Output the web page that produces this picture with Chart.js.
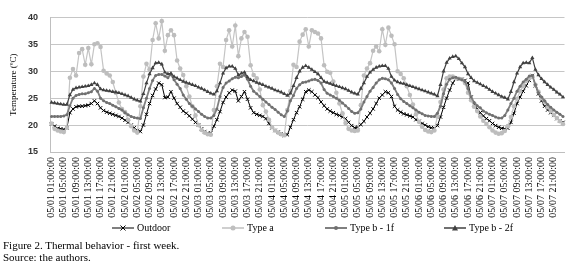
<!DOCTYPE html>
<html><head><meta charset="utf-8">
<script src="https://cdn.jsdelivr.net/npm/chart.js@4.4.0/dist/chart.umd.min.js"></script>
<style>
html,body{margin:0;padding:0;background:#fff;}
#wrap{position:relative;width:580px;height:268px;overflow:hidden;background:#fff;}
canvas{position:absolute;left:0;top:0;}
.leg{position:absolute;top:223px;height:10px;font:10px "Liberation Serif",serif;color:#000;display:flex;align-items:center;white-space:nowrap;line-height:10px;}
.leg svg{margin-right:3px;display:block;}
#cap{position:absolute;left:3px;top:240px;font:11px "Liberation Serif",serif;line-height:11.5px;color:#000;white-space:nowrap;}
</style></head><body>
<div id="wrap">
<canvas id="c" width="580" height="268"></canvas>
<div class="leg" style="left:112px"><svg width="22" height="10"><line x1="0" y1="5" x2="22" y2="5" stroke="#000" stroke-width="1"/><path d="M8.5 2.5 L13.5 7.5 M13.5 2.5 L8.5 7.5" stroke="#000" stroke-width="1"/></svg><span id="l0"></span></div>
<div class="leg" style="left:222px"><svg width="22" height="10"><line x1="0" y1="5" x2="22" y2="5" stroke="#bfbfbf" stroke-width="1.5"/><circle cx="11" cy="5" r="2.5" fill="#bfbfbf"/></svg><span id="l1"></span></div>
<div class="leg" style="left:325px"><svg width="22" height="10"><line x1="0" y1="5" x2="22" y2="5" stroke="#7f7f7f" stroke-width="2"/><circle cx="11" cy="5" r="2" fill="#6f6f6f"/></svg><span id="l2"></span></div>
<div class="leg" style="left:444px"><svg width="22" height="10"><line x1="0" y1="5" x2="22" y2="5" stroke="#404040" stroke-width="1.5"/><polygon points="11,2 14,7.5 8,7.5" fill="#404040"/></svg><span id="l3"></span></div>
<div id="cap">Figure 2. Thermal behavior - first week.<br>Source: the authors.</div>
</div>
<script>
const dayLabels = ['05/01','05/02','05/03','05/04','05/05','05/06','05/07','05/08'];
const seriesNames = ['Outdoor','Type a','Type b - 1f','Type b - 2f'];
const yMin = 15, yMax = 40, yStep = 5;

// hourly values, 05/01 01:00 .. 05/08 00:00 (one row per day)
const outdoor = [
  20.2,19.8,19.4,19.3,19.2,19.5,22.3,23.0,23.4,23.5,23.5,23.6,23.7,24.0,24.5,24.0,23.2,22.7,22.4,22.2,22.0,21.8,21.6,21.3,
  20.9,20.5,20.0,19.5,19.0,18.8,20.0,22.0,24.0,25.5,26.7,27.8,27.5,25.1,25.2,26.2,25.0,24.0,23.3,22.6,22.2,21.7,21.1,20.5,
  20.0,19.3,18.8,18.5,18.5,19.8,21.0,22.5,24.2,25.2,26.0,26.5,26.3,24.5,25.3,26.2,24.8,23.2,22.3,22.0,21.8,21.6,21.2,20.3,
  19.5,19.0,18.7,18.4,18.1,18.2,19.6,21.0,22.3,23.4,24.8,26.2,26.5,26.2,25.6,25.1,24.3,23.6,23.0,22.6,22.3,22.0,21.8,21.5,
  21.2,20.5,19.9,19.5,19.6,20.1,20.7,21.5,22.2,23.0,24.0,25.0,25.6,26.2,26.0,25.3,23.5,22.8,22.4,22.1,21.9,21.7,21.5,21.0,
  20.7,20.3,20.0,19.7,19.5,19.4,19.9,21.5,23.3,25.0,26.5,27.8,28.6,28.6,28.5,28.3,27.8,25.2,23.8,23.0,22.3,21.7,21.2,20.8,
  20.3,19.9,19.6,19.4,19.3,19.4,20.5,22.2,24.0,25.2,26.3,27.3,28.3,29.2,27.3,25.8,24.5,23.5,22.8,22.3,21.8,21.2,20.8,20.5
];
const typeA = [
  20.3,19.3,19.0,18.8,18.7,19.5,28.8,30.4,29.2,33.4,34.1,31.2,34.3,31.3,35.0,35.2,34.5,30.1,29.6,29.2,28.0,26.0,24.2,23.0,
  22.4,21.0,19.8,19.0,18.6,23.5,29.0,31.4,30.3,35.8,38.9,36.1,39.3,33.8,36.7,37.6,36.7,32.0,30.5,29.3,27.2,25.3,23.5,21.8,
  20.0,19.1,18.6,18.3,18.2,22.8,27.2,31.4,30.8,35.8,37.6,34.6,38.5,32.8,36.1,37.3,36.4,31.1,29.3,28.7,26.6,23.7,22.5,21.0,
  19.6,19.0,18.6,18.3,18.1,22.8,26.3,31.2,30.8,35.5,36.8,37.8,34.6,37.6,37.3,37.0,36.1,31.1,29.9,29.7,28.1,26.0,24.0,22.2,
  20.4,19.3,19.0,18.9,19.0,23.7,29.2,30.5,31.5,33.8,34.6,33.7,37.8,34.9,38.1,36.6,35.0,30.0,29.5,28.7,27.2,25.6,23.8,22.0,
  20.6,19.7,19.1,18.8,18.7,19.0,21.6,24.3,26.6,28.7,29.0,29.0,28.7,28.6,28.5,27.8,26.0,24.6,23.4,22.6,21.6,20.8,20.2,19.6,
  19.0,18.6,18.4,18.5,18.9,19.8,21.5,23.5,24.9,26.3,27.2,28.2,28.7,29.0,27.5,26.2,25.0,24.3,23.3,22.6,21.9,21.3,20.7,20.2
];
const typeB1f = [
  21.6,21.6,21.6,21.6,21.7,21.9,23.6,25.0,25.5,25.7,25.8,25.8,26.0,26.2,26.8,26.3,25.0,24.5,24.2,24.0,23.7,23.4,23.1,22.8,
  22.3,21.9,21.6,21.4,21.3,21.2,23.2,25.0,26.8,28.3,29.2,29.4,29.4,29.1,28.8,29.4,28.4,27.6,26.8,25.6,24.8,24.0,23.5,23.0,
  22.5,22.0,21.6,21.3,21.3,21.8,23.0,25.3,27.0,27.8,28.2,28.6,28.9,28.8,29.0,29.3,28.5,27.2,26.3,25.8,25.3,24.8,24.3,23.8,
  23.3,22.9,22.4,21.9,21.6,22.6,24.5,25.5,26.8,27.5,27.9,28.0,28.2,28.4,28.5,28.3,27.8,26.6,25.9,25.6,25.3,25.0,24.6,24.1,
  23.6,23.1,22.5,22.2,22.3,23.0,24.3,25.3,26.3,27.0,27.8,28.4,28.7,28.6,28.4,27.8,26.8,25.7,24.9,24.4,24.0,23.6,23.2,22.8,
  22.4,22.1,21.8,21.7,21.6,21.6,22.2,23.5,25.8,27.6,28.5,28.8,28.9,28.6,28.4,28.1,26.8,25.2,24.2,23.6,23.2,22.6,22.3,22.0,
  21.8,21.5,21.3,21.3,21.8,22.8,24.0,25.0,26.3,27.2,28.0,28.5,29.1,29.2,27.5,26.0,25.2,24.5,23.8,23.3,22.8,22.4,22.0,21.6
];
const typeB2f = [
  24.2,24.1,24.0,23.9,23.8,23.8,25.6,26.6,26.9,27.0,27.1,27.2,27.3,27.5,27.8,27.5,26.7,26.5,26.4,26.3,26.2,26.1,26.0,25.8,
  25.6,25.4,25.1,24.8,24.6,24.4,25.8,27.8,29.5,30.6,31.5,31.6,31.3,29.8,29.5,29.6,29.0,28.7,28.4,28.1,27.9,27.7,27.5,27.3,
  27.0,26.8,26.5,26.2,25.9,25.7,26.3,27.8,29.6,30.6,30.9,30.9,30.5,29.3,29.6,29.8,28.9,28.4,28.2,27.9,27.7,27.5,27.2,27.0,
  26.8,26.5,26.3,26.1,25.8,25.5,25.9,27.3,28.8,30.0,30.7,31.0,30.7,30.3,29.9,29.5,28.8,28.1,27.9,27.7,27.5,27.3,27.1,26.9,
  26.7,26.4,26.1,25.9,25.7,26.8,27.8,29.0,29.8,30.3,30.7,30.9,31.0,31.0,30.5,29.0,28.3,28.0,27.8,27.7,27.5,27.3,27.1,26.9,
  26.7,26.5,26.3,26.1,25.9,25.7,25.4,27.5,30.0,31.6,32.4,32.7,32.8,32.3,31.5,30.8,29.5,28.8,28.2,27.9,27.6,27.3,27.0,26.6,
  26.2,25.9,25.6,25.3,25.1,24.8,26.2,28.0,29.6,30.8,31.5,31.6,31.5,32.5,30.3,29.3,28.6,28.0,27.5,27.0,26.6,26.1,25.7,25.2
];

// category labels (hourly timestamps)
const labels = [];
for (let h = 0; h < outdoor.length; h++) {
  const t = h + 1;
  labels.push(dayLabels[Math.floor(t / 24)] + ' ' + String(t % 24).padStart(2, '0') + ':00:00');
}

seriesNames.forEach((n, i) => { document.getElementById('l' + i).textContent = n; });

new Chart(document.getElementById('c'), {
  type: 'line',
  data: {
    labels: labels,
    datasets: [
      { label: seriesNames[0], data: outdoor, borderColor: '#000', borderWidth: 1,
        pointStyle: 'crossRot', pointRadius: 2.4, pointBorderWidth: 1,
        pointBorderColor: '#000', pointBackgroundColor: '#000', order: 4 },
      { label: seriesNames[1], data: typeA, borderColor: '#c4c4c4', borderWidth: 1.2,
        pointStyle: 'circle', pointRadius: 2.3, pointBorderWidth: 0,
        pointBackgroundColor: '#bdbdbd', pointBorderColor: '#bdbdbd', order: 3 },
      { label: seriesNames[2], data: typeB1f, borderColor: '#808080', borderWidth: 1.8,
        pointStyle: 'circle', pointRadius: 1.5, pointBorderWidth: 0,
        pointBackgroundColor: '#707070', pointBorderColor: '#707070', order: 2 },
      { label: seriesNames[3], data: typeB2f, borderColor: '#404040', borderWidth: 1.2,
        pointStyle: 'triangle', pointRadius: 2.4, pointBorderWidth: 0,
        pointBackgroundColor: '#404040', pointBorderColor: '#404040', order: 1 }
    ]
  },
  options: {
    responsive: false,
    animation: false,
    devicePixelRatio: 1,
    layout: { padding: { left: 0, top: 11, right: 6, bottom: 46 } },
    elements: { line: { tension: 0 } },
    plugins: { legend: { display: false }, tooltip: { enabled: false } },
    scales: {
      x: {
        offset: true,
        grid: { display: false, drawTicks: false },
        border: { display: true, color: '#bfbfbf', width: 1 },
        ticks: {
          autoSkip: false, minRotation: 90, maxRotation: 90, padding: 5,
          color: '#000', font: { family: 'Liberation Serif', size: 10 },
          callback: function (v, i) { return (i % 4 === 0 && i <= 164) ? labels[i] : ''; }
        },
        afterFit: function (s) { s.height = 70; }
      },
      y: {
        min: yMin, max: yMax,
        grid: { color: '#c6c6c6', lineWidth: 1, drawTicks: false },
        border: { display: true, color: '#bfbfbf', width: 1 },
        ticks: { stepSize: yStep, padding: 12, color: '#333',
          font: { family: 'Liberation Sans', size: 9, weight: 'bold' } },
        title: { display: true, text: 'Temperature (ºC)', color: '#000',
          font: { family: 'Liberation Serif', size: 9 }, padding: { top: 8, bottom: 0 } },
        afterFit: function (s) { s.width = 50; }
      }
    }
  }
});
</script>
</body></html>
